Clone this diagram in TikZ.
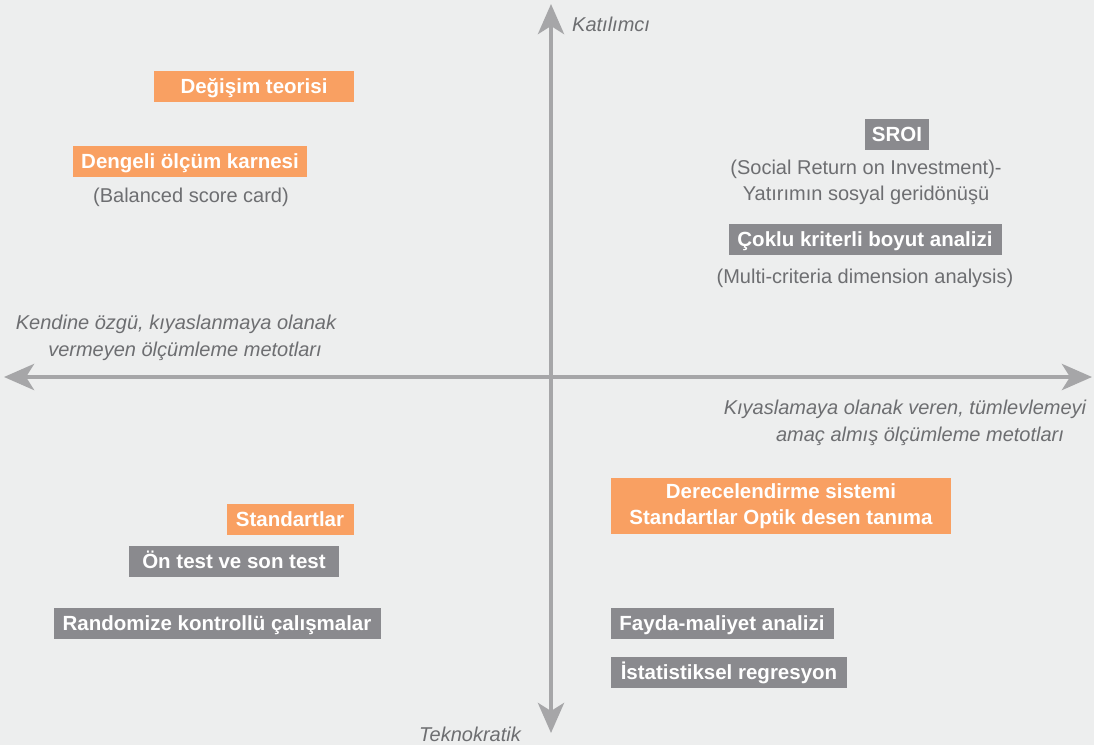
\documentclass[tikz,border=0pt]{standalone}
\usepackage{fontspec}
\setmainfont{Liberation Sans}
\usetikzlibrary{arrows.meta}
\definecolor{bg}{HTML}{EDEEEE}
\definecolor{orng}{HTML}{F9A062}
\definecolor{gbox}{HTML}{8A8A8E}
\definecolor{axis}{HTML}{A6A6A8}
\definecolor{gtxt}{HTML}{6D6E71}
\tikzset{
  bx/.style={text=white, font=\fontsize{20.5}{26}\selectfont\bfseries, inner sep=0pt, minimum height=31pt, text height=15pt, text depth=0pt, align=center},
  obox/.style={bx, fill=orng},
  gbx/.style={bx, fill=gbox},
  note/.style={text=gtxt, font=\fontsize{20}{26}\selectfont, inner sep=0pt, align=center},
  axlabel/.style={text=gtxt, font=\fontsize{20}{27}\selectfont\itshape, inner sep=0pt, align=center},
  ax/.style={draw=axis, line width=4.5pt, -{Stealth[length=30pt, width=26pt, inset=8pt]}}
}
\begin{document}
\begin{tikzpicture}[x=1pt, y=-1pt]
\fill[bg] (0,0) rectangle (1094,745);
\useasboundingbox (0,0) rectangle (1094,745);
% axes
\coordinate (c) at (551,377);
\coordinate (top) at (551,4);
\coordinate (bot) at (551,733);
\coordinate (lft) at (4,377);
\coordinate (rgt) at (1092,377);
\draw[ax] (c) -- (top);
\draw[ax] (c) -- (bot);
\draw[ax] (c) -- (lft);
\draw[ax] (c) -- (rgt);
% axis labels
\node[axlabel, anchor=west] (katilimci) at (572,24) {Katılımcı};
\node[axlabel] (tekno) at (470,734) {Teknokratik};
\node[axlabel] (kendine) at (176,338) {Kendine özgü, kıyaslanmaya olanak\\\hspace*{18pt}vermeyen ölçümleme metotları};
\node[axlabel] (kiyas) at (905,423) {Kıyaslamaya olanak veren, tümlevlemeyi\\\hspace*{30pt}amaç almış ölçümleme metotları};
% top-left
\node[obox, minimum width=200pt] (degisim) at (254,86) {Değişim teorisi};
\node[obox, minimum width=234pt] (dengeli) at (190,161) {Dengeli ölçüm karnesi};
\node[note] (balanced) at (191,197) {(Balanced score card)};
% top-right
\node[gbx, minimum width=64pt] (sroi) at (897,134) {SROI};
\node[note] (social) at (866,182) {(Social Return on Investment)-\\Yatırımın sosyal geridönüşü};
\node[gbx, minimum width=273pt] (coklu) at (865,239) {Çoklu kriterli boyut analizi};
\node[note] (multi) at (865,278) {(Multi-criteria dimension analysis)};
% bottom-left
\node[obox, minimum width=127pt] (standart) at (290,519) {Standartlar};
\node[gbx, minimum width=210pt] (ontest) at (234,561) {Ön test ve son test};
\node[gbx, minimum width=327pt] (random) at (217,623) {Randomize kontrollü çalışmalar};
% bottom-right
\node[obox, minimum width=340pt, minimum height=56pt, text height=, text depth=] (derece) at (781,506) {Derecelendirme sistemi\\Standartlar Optik desen tanıma};
\node[gbx, minimum width=223pt] (fayda) at (722,623) {Fayda-maliyet analizi};
\node[gbx, minimum width=236pt] (istat) at (729,672) {İstatistiksel regresyon};
\end{tikzpicture}
\end{document}
